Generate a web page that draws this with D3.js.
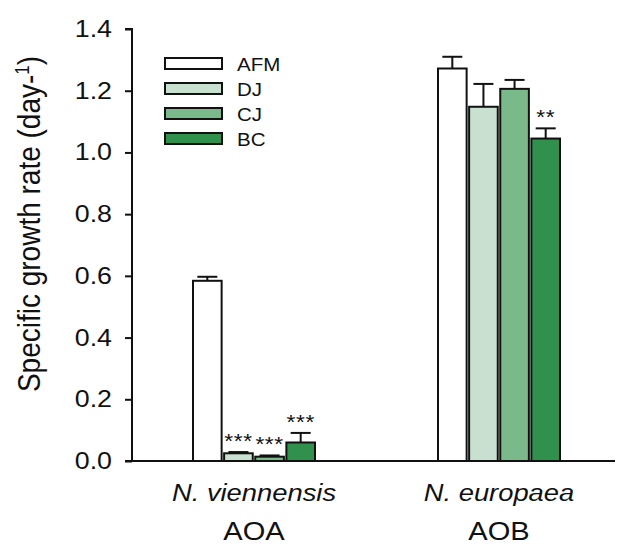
<!DOCTYPE html>
<html>
<head>
<meta charset="utf-8">
<script src="https://cdn.jsdelivr.net/npm/d3@7"></script>
<style>
  body { margin: 0; background: #fff; }
  text { font-family: "Liberation Sans", Arial, sans-serif; fill: #111; }
</style>
</head>
<body>
<svg id="chart" width="622" height="547"></svg>
<script>
// data
const groups = ["AOA", "AOB"];
const species = ["N. viennensis", "N. europaea"];
const series = ["AFM", "DJ", "CJ", "BC"];
const colors = ["#ffffff", "#c8e0d0", "#79b98a", "#2f914c"];
const rateAOA = [0.584, 0.025, 0.014, 0.060];
const errAOA = [0.013, 0.004, 0.004, 0.031];
const rateAOB = [1.272, 1.148, 1.206, 1.045];
const errAOB = [0.038, 0.074, 0.029, 0.033];
const starsAOA = ["", "***", "***", "***"];
const starsAOB = ["", "", "", "**"];
const yTicks = [0, 0.2, 0.4, 0.6, 0.8, 1.0, 1.2, 1.4];

// the source figure is a bit wider than tall in its lettering
const SX = 1.14;

const svg = d3.select("#chart");

const y = d3.scaleLinear().domain([0, 1.4]).range([461, 29]);
const x0 = d3.scaleBand().domain(groups).range([131.5, 621.5]);
const x1 = d3.scaleBand().domain(series).range([0, 122]).paddingInner(0.08);

const rows = [];
groups.forEach((g, gi) => {
  const vals = gi === 0 ? rateAOA : rateAOB;
  const errs = gi === 0 ? errAOA : errAOB;
  const stars = gi === 0 ? starsAOA : starsAOB;
  series.forEach((s, si) => rows.push({ g, s, si, v: vals[si], e: errs[si], star: stars[si] }));
});

const bx = d => x0(d.g) + x0.bandwidth() / 2 - 61 + x1(d.s);
const mid = d => bx(d) + x1.bandwidth() / 2;

// error bars (upper only) drawn under bars
const eb = svg.append("g").attr("class", "errors");
eb.selectAll("line.stem").data(rows).enter().append("line")
  .attr("x1", mid).attr("x2", mid)
  .attr("y1", d => y(d.v)).attr("y2", d => y(d.v + d.e))
  .attr("stroke", "#111").attr("stroke-width", 2);
eb.selectAll("line.cap").data(rows).enter().append("line")
  .attr("x1", d => mid(d) - 10).attr("x2", d => mid(d) + 10)
  .attr("y1", d => y(d.v + d.e)).attr("y2", d => y(d.v + d.e))
  .attr("stroke", "#111").attr("stroke-width", 2);

// bars
svg.append("g").attr("class", "bars")
  .selectAll("rect").data(rows).enter().append("rect")
  .attr("x", d => bx(d)).attr("width", x1.bandwidth())
  .attr("y", d => y(d.v)).attr("height", d => y(0) - y(d.v))
  .attr("fill", d => colors[d.si]).attr("stroke", "#111").attr("stroke-width", 2);

// significance stars
svg.append("g").selectAll("text").data(rows.filter(d => d.star)).enter().append("text")
  .attr("transform", d => `translate(${mid(d)},${y(d.v + d.e) - 4}) scale(${SX},1)`)
  .attr("text-anchor", "middle").attr("font-size", 20).attr("letter-spacing", 0.5)
  .text(d => d.star);

// y axis
const yAxis = svg.append("g").attr("transform", "translate(132,0)")
  .call(d3.axisLeft(y).tickValues(yTicks).tickFormat(d3.format(".1f")).tickSize(7).tickPadding(13));
yAxis.select(".domain").attr("stroke", "#111").attr("stroke-width", 2).attr("d", "M-7,29H0V461H-7");
yAxis.selectAll(".tick line").attr("stroke", "#111").attr("stroke-width", 2);
yAxis.selectAll(".tick text").attr("font-size", 23.5).attr("fill", "#111")
  .attr("font-family", "'Liberation Sans', Arial, sans-serif")
  .attr("x", 0).attr("transform", `translate(-20,0) scale(${SX},1)`);

// x axis line
svg.append("line").attr("x1", 125).attr("x2", 615).attr("y1", y(0)).attr("y2", y(0))
  .attr("stroke", "#111").attr("stroke-width", 2);

// category labels
const cx = g => x0(g) + x0.bandwidth() / 2;
svg.append("g").selectAll("text").data(groups).enter().append("text")
  .attr("transform", g => `translate(${cx(g)},501) scale(${SX},1)`).attr("text-anchor", "middle")
  .attr("font-size", 24).attr("font-style", "italic")
  .text((g, i) => species[i]);
svg.append("g").selectAll("text").data(groups).enter().append("text")
  .attr("transform", g => `translate(${cx(g)},540) scale(${SX},1)`).attr("text-anchor", "middle")
  .attr("font-size", 25.5)
  .text(g => g);

// y label
const yl = svg.append("text").attr("transform", `translate(40,224) rotate(-90) scale(1,${SX})`)
  .attr("text-anchor", "middle").attr("font-size", 28);
yl.append("tspan").text("Specific growth rate (day-");
yl.append("tspan").attr("font-size", 17).attr("dy", -10).text("1");
yl.append("tspan").attr("dy", 10).text(")");

// legend
const lg = svg.append("g").attr("transform", "translate(165,58)");
const li = lg.selectAll("g").data(series).enter().append("g")
  .attr("transform", (d, i) => `translate(0,${i * 25})`);
li.append("rect").attr("width", 57).attr("height", 11)
  .attr("fill", (d, i) => colors[i]).attr("stroke", "#111").attr("stroke-width", 2);
li.append("text").attr("transform", `translate(72,12.5) scale(${SX},1)`)
  .attr("font-size", 18).text(d => d);
</script>
</body>
</html>
